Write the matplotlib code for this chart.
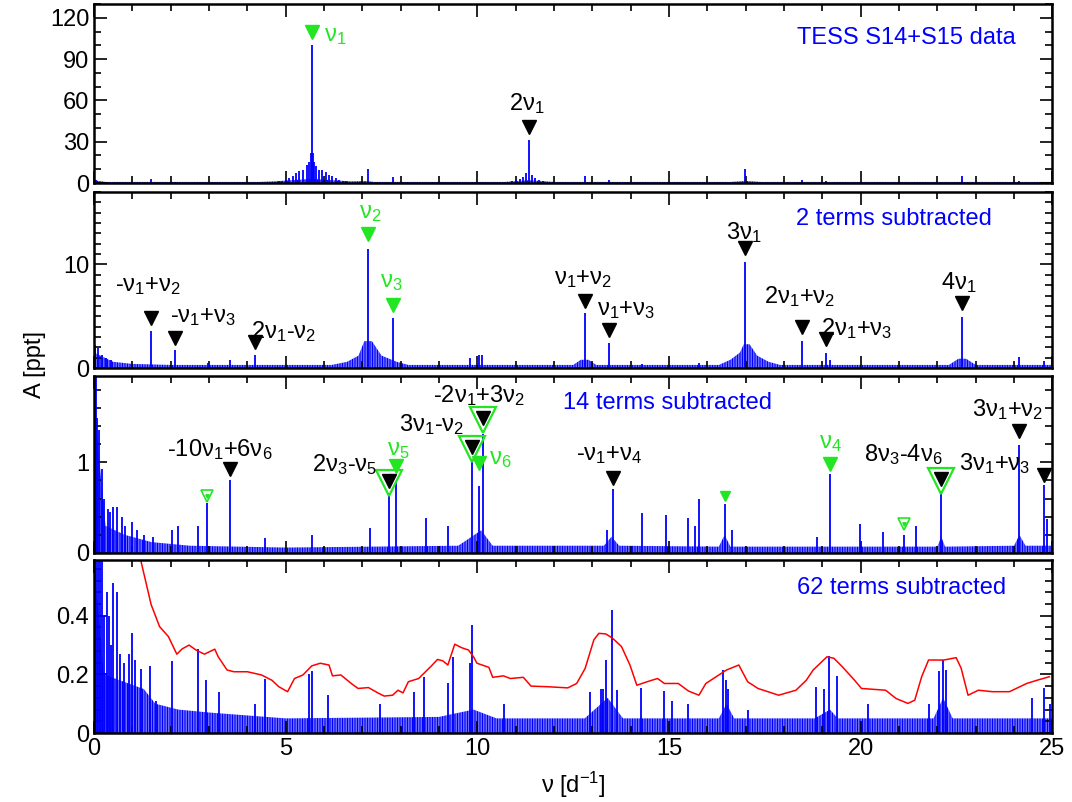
import numpy as np
import matplotlib
matplotlib.use('Agg')
import matplotlib.pyplot as plt
from matplotlib import ticker

BLUE, RED, GREEN, BLACK = '#0000FF', '#FF0000', '#22E622', '#000000'

plt.rcParams['font.family'] = ['Liberation Sans', 'DejaVu Sans']
plt.rcParams['mathtext.fontset'] = 'custom'
plt.rcParams['mathtext.rm'] = 'Liberation Sans'
plt.rcParams['mathtext.it'] = 'Liberation Sans:italic'
plt.rcParams['mathtext.bf'] = 'Liberation Sans:bold'
plt.rcParams['axes.linewidth'] = 1.8
plt.rcParams['hatch.linewidth'] = 0.9
plt.rcParams['hatch.color'] = BLUE

# ---- data: (frequency [1/d], amplitude [ppt]) ----
# panel 1: original data
peaks_p1 = [(0.05, 2.0), (1.49, 3.1), (2.1, 1.0), (4.82, 1.2), (4.91, 1.6), (5.00, 2.4),
            (5.09, 3.6), (5.18, 5.3), (5.27, 7.2), (5.36, 8.4), (5.45, 9.6), (5.55, 13.0),
            (5.62, 15.0), (5.65, 22.0), (5.675, 100.5), (5.70, 22.0), (5.73, 15.0),
            (5.79, 12.0), (5.86, 9.6), (5.95, 9.2), (6.04, 7.7), (6.13, 6.0), (6.22, 4.8),
            (6.31, 3.6), (6.40, 2.4), (6.49, 1.7), (6.58, 1.2), (7.16, 10.4), (7.79, 4.5),
            (10.9, 1.5), (11.0, 2.5), (11.1, 3.0), (11.2, 4.5), (11.27, 7.0), (11.35, 31.3),
            (11.43, 6.0), (11.5, 4.0), (11.6, 2.5), (11.7, 1.5), (12.81, 4.8), (13.44, 2.4),
            (16.98, 10.1), (18.48, 2.4), (19.1, 1.2), (22.65, 5.3), (24.14, 1.2)]
noise_p1 = [(0, 2.0), (0.3, 0.8), (4.3, 0.8), (4.7, 1.2), (5.675, 3.0), (6.7, 1.2),
            (7.1, 1.5), (7.3, 0.8), (10.7, 0.8), (11.35, 2.0), (12.0, 0.8), (16.6, 0.8),
            (17.0, 1.5), (17.4, 0.8), (25, 0.8)]

# panel 2: 2 terms subtracted
peaks_p2 = [(0.03, 2.2), (0.1, 1.9), (0.2, 1.3), (0.3, 1.0), (0.45, 0.8), (1.49, 3.6),
            (2.12, 1.7), (2.97, 0.5), (3.56, 0.8), (4.19, 1.3), (7.16, 11.5), (7.79, 4.8),
            (9.82, 1.0), (10.05, 1.3), (10.13, 1.3), (12.81, 5.3), (13.44, 2.4), (14.3, 0.4),
            (15.77, 0.5), (16.98, 10.2), (18.48, 2.6), (19.1, 1.5), (19.2, 0.8),
            (22.65, 4.9), (24.14, 1.1), (24.77, 0.7)]
noise_p2 = [(0, 1.5), (0.5, 0.6), (1.0, 0.4), (2.0, 0.3), (6.2, 0.3), (6.6, 0.6), (6.9, 1.2),
            (7.05, 2.6), (7.25, 2.6), (7.5, 1.2), (7.9, 0.6), (8.2, 0.3), (12.5, 0.3),
            (12.7, 0.8), (12.9, 0.8), (13.1, 0.3), (16.3, 0.3), (16.6, 0.8), (16.85, 1.5),
            (16.95, 2.3), (17.1, 2.3), (17.3, 1.2), (17.6, 0.6), (17.9, 0.3), (22.3, 0.3),
            (22.55, 0.9), (22.75, 0.9), (23.0, 0.3), (25, 0.3)]

# panel 3: 14 terms subtracted
peaks_p3 = [(0.045, 1.95), (0.09, 1.49), (0.135, 1.36), (0.21, 0.93), (0.27, 0.6),
            (0.36, 0.49), (0.41, 0.45), (0.5, 0.51), (0.59, 0.51), (0.72, 0.4), (0.81, 0.3),
            (0.99, 0.34), (1.13, 0.25), (1.3, 0.2), (1.53, 0.18), (2.03, 0.25), (2.19, 0.3),
            (2.7, 0.3), (2.95, 0.55), (3.54, 0.8), (4.46, 0.17), (5.68, 0.2), (7.2, 0.28),
            (7.7, 0.66), (7.88, 0.79), (8.65, 0.38), (9.23, 0.3), (9.85, 1.02), (10.05, 0.74),
            (10.14, 1.31), (13.37, 0.25), (13.53, 0.7), (14.3, 0.44), (14.93, 0.42),
            (15.49, 0.39), (15.68, 0.3), (15.79, 0.59), (16.45, 0.54), (16.63, 0.25),
            (18.85, 0.18), (19.19, 0.87), (19.97, 0.32), (20.57, 0.23), (21.14, 0.2),
            (21.45, 0.3), (22.1, 0.68), (24.14, 1.19), (24.77, 0.75), (24.85, 0.37)]
noise_p3 = [(0, 1.9), (0.1, 1.2), (0.3, 0.3), (0.8, 0.2), (1.5, 0.12), (2.5, 0.08),
            (5.0, 0.06), (9.5, 0.08), (10.1, 0.25), (10.4, 0.08), (13.3, 0.08), (13.5, 0.18),
            (13.7, 0.08), (16.3, 0.07), (16.45, 0.2), (16.6, 0.07), (22.0, 0.07), (22.1, 0.18),
            (22.2, 0.07), (24.0, 0.08), (24.14, 0.2), (24.3, 0.08), (25, 0.08)]

# panel 4: 62 terms subtracted
peaks_p4 = [(0.05, 0.59), (0.1, 0.59), (0.15, 0.59), (0.2, 0.59), (0.27, 0.4), (0.33, 0.48),
            (0.39, 0.4), (0.45, 0.3), (0.5, 0.51), (0.59, 0.48), (0.68, 0.27), (0.77, 0.24),
            (0.9, 0.27), (0.99, 0.34), (1.08, 0.25), (1.22, 0.22), (1.47, 0.23), (1.62, 0.11),
            (2.03, 0.245), (2.7, 0.286), (2.92, 0.18), (3.27, 0.14), (4.2, 0.1), (4.46, 0.185),
            (5.62, 0.2), (5.68, 0.21), (6.1, 0.13), (7.46, 0.1), (8.34, 0.14), (8.6, 0.19),
            (9.23, 0.17), (9.37, 0.26), (9.82, 0.24), (9.85, 0.37), (10.7, 0.1), (12.93, 0.14),
            (13.23, 0.15), (13.28, 0.15), (13.35, 0.25), (13.5, 0.42), (13.64, 0.146),
            (14.28, 0.154), (14.88, 0.143), (15.08, 0.11), (15.5, 0.1), (16.41, 0.215),
            (16.49, 0.18), (16.55, 0.15), (17.05, 0.08), (18.83, 0.158), (19.03, 0.15),
            (19.16, 0.264), (19.39, 0.195), (20.18, 0.1), (21.77, 0.1), (22.05, 0.21),
            (22.14, 0.25), (22.23, 0.215), (24.46, 0.118), (24.79, 0.152), (24.95, 0.1)]
noise_p4 = [(0, 0.59), (0.25, 0.2), (1.3, 0.15), (1.6, 0.1), (2.2, 0.08), (3.0, 0.07),
            (5.0, 0.05), (9.0, 0.055), (9.9, 0.08), (10.5, 0.05), (12.8, 0.05), (13.4, 0.12),
            (13.8, 0.05), (16.3, 0.05), (16.5, 0.1), (16.7, 0.05), (18.8, 0.05), (19.2, 0.08),
            (19.4, 0.05), (21.9, 0.05), (22.15, 0.12), (22.4, 0.05), (25, 0.05)]
noise_level = [(1.2, 0.60), (1.49, 0.438), (1.71, 0.363), (1.94, 0.329), (2.16, 0.269),
               (2.3, 0.287), (2.48, 0.30), (2.66, 0.283), (2.88, 0.269), (3.15, 0.286),
               (3.24, 0.26), (3.47, 0.215), (3.65, 0.209), (4.0, 0.209), (4.37, 0.198),
               (4.64, 0.18), (4.82, 0.158), (5.05, 0.141), (5.23, 0.186), (5.45, 0.198),
               (5.68, 0.229), (5.9, 0.238), (6.13, 0.232), (6.22, 0.195), (6.44, 0.198),
               (6.71, 0.169), (6.89, 0.152), (7.16, 0.155), (7.43, 0.135), (7.57, 0.126),
               (7.79, 0.129), (7.93, 0.146), (8.06, 0.137), (8.2, 0.175), (8.47, 0.186),
               (8.6, 0.203), (8.78, 0.226), (8.96, 0.251), (9.1, 0.246), (9.23, 0.232),
               (9.41, 0.303), (9.59, 0.291), (9.77, 0.283), (9.9, 0.26), (9.99, 0.238),
               (10.3, 0.224), (10.4, 0.19), (10.68, 0.195), (10.86, 0.186), (11.2, 0.19),
               (11.4, 0.16), (11.82, 0.158), (12.36, 0.154), (12.59, 0.169), (12.81, 0.22),
               (13.04, 0.318), (13.17, 0.34), (13.35, 0.338), (13.53, 0.323), (13.76, 0.295),
               (13.98, 0.232), (14.16, 0.163), (14.43, 0.175), (14.7, 0.186), (14.88, 0.169),
               (15.24, 0.169), (15.51, 0.143), (15.78, 0.129), (15.96, 0.169), (16.23, 0.192),
               (16.5, 0.215), (16.82, 0.232), (17.05, 0.175), (17.32, 0.152), (17.86, 0.129),
               (18.31, 0.146), (18.58, 0.18), (18.76, 0.215), (19.12, 0.26), (19.3, 0.255),
               (19.52, 0.226), (19.84, 0.18), (20.02, 0.152), (20.65, 0.146), (20.92, 0.118),
               (21.23, 0.101), (21.41, 0.112), (21.59, 0.192), (21.77, 0.249), (22.17, 0.249),
               (22.49, 0.257), (22.62, 0.221), (22.8, 0.129), (23.07, 0.146), (23.43, 0.141),
               (23.88, 0.141), (24.33, 0.169), (24.6, 0.18), (24.92, 0.192)]

titles = ['TESS S14+S15 data', '2 terms subtracted', '14 terms subtracted', '62 terms subtracted']

# ---- layout ----
fig = plt.figure(figsize=(10.72, 8.02), dpi=100)
L, W = 0.0877, 0.894
boxes = [(0.7718, 0.2232), (0.5411, 0.2195), (0.3105, 0.2207), (0.0860, 0.2157)]
ylims = [130, 17, 1.95, 0.59]
ymaj = [30, 10, 1, 0.2]
ymin = [10, 1, 0.2, 0.04]
peaks = [peaks_p1, peaks_p2, peaks_p3, peaks_p4]
noise = [noise_p1, noise_p2, noise_p3, noise_p4]
title_pos = [(0.962, 0.81, 'right'), (0.937, 0.848, 'right'),
             (0.489, 0.845, 'left'), (0.952, 0.836, 'right')]

axes = []
for i in range(4):
    ax = fig.add_axes([L, boxes[i][0], W, boxes[i][1]])
    nf, na = np.array(noise[i]).T
    # noise floor drawn as a dense comb of thin vertical strokes
    ax.fill_between(nf, 0, na, facecolor='none', edgecolor=BLUE, hatch='|' * 10, lw=0)
    pf, pa = np.array(peaks[i]).T
    ax.vlines(pf, 0, pa, color=BLUE, lw=1.3)
    ax.set_xlim(0, 25)
    ax.set_ylim(0, ylims[i])
    ax.xaxis.set_major_locator(ticker.MultipleLocator(5))
    ax.xaxis.set_minor_locator(ticker.MultipleLocator(1))
    ax.yaxis.set_major_locator(ticker.MultipleLocator(ymaj[i]))
    ax.yaxis.set_minor_locator(ticker.MultipleLocator(ymin[i]))
    ax.tick_params(which='both', direction='in', top=True, right=True, labelsize=17, width=1.2)
    ax.tick_params(which='major', length=9)
    ax.tick_params(which='minor', length=5)
    if i < 3:
        ax.tick_params(labelbottom=False)
    tx, ty, ha = title_pos[i]
    ax.text(tx, ty, titles[i], transform=ax.transAxes, color=BLUE, fontsize=17, ha=ha, va='center')
    axes.append(ax)

axes[1].yaxis.set_major_formatter(ticker.FuncFormatter(lambda v, p: f'{v:.0f}'))
axes[2].yaxis.set_major_formatter(ticker.FuncFormatter(lambda v, p: f'{v:.0f}'))
axes[3].yaxis.set_major_formatter(ticker.FuncFormatter(lambda v, p: '0' if v == 0 else f'{v:.1f}'))

nf, na = np.array(noise_level).T
axes[3].plot(nf, na, color=RED, lw=1.1)

# ---- identification marks: (panel, x, y, kind) ----
marks = [(0, 5.675, 109.6, 'g'), (0, 11.35, 41, 'k'),
         (1, 1.49, 4.8, 'k'), (1, 2.12, 2.9, 'k'), (1, 4.19, 2.56, 'k'), (1, 7.16, 12.9, 'g'),
         (1, 7.79, 6.1, 'g'), (1, 12.81, 6.5, 'k'), (1, 13.44, 3.7, 'k'), (1, 16.98, 11.55, 'k'),
         (1, 18.48, 4.0, 'k'), (1, 19.1, 2.8, 'k'), (1, 22.65, 6.3, 'k'),
         (2, 2.95, 0.63, 'o'), (2, 3.54, 0.93, 'k'), (2, 7.7, 0.79, 'r'), (2, 7.88, 0.96, 'g'),
         (2, 9.85, 1.17, 'r'), (2, 10.14, 1.49, 'r'), (2, 10.05, 0.99, 'g'),
         (2, 13.53, 0.83, 'k'), (2, 16.45, 0.63, 's'), (2, 19.19, 0.98, 'g'),
         (2, 22.1, 0.81, 'r'), (2, 21.14, 0.32, 'o'), (2, 24.14, 1.34, 'k'), (2, 24.77, 0.86, 'k')]
for p, x, y, kind in marks:
    ax = axes[p]
    if kind == 'k':
        ax.plot(x, y, 'v', color=BLACK, ms=10, clip_on=False)
    elif kind == 'g':
        ax.plot(x, y, 'v', color=GREEN, ms=10, clip_on=False)
    elif kind == 's':
        ax.plot(x, y, 'v', color=GREEN, ms=7)
    elif kind == 'o':
        ax.plot(x, y, 'v', mfc='none', mec=GREEN, mew=1.2, ms=9)
        ax.plot(x, y, 'v', color=GREEN, ms=2.5)
    elif kind == 'r':
        ax.plot(x, y - 0.02, 'v', mfc='none', mec=GREEN, mew=1.6, ms=19)
        ax.plot(x, y, 'v', color=BLACK, ms=10)

labels = [(0, 'ν$_1$', 6.3, 107, GREEN), (0, '2ν$_1$', 11.3, 58, BLACK),
          (1, '-ν$_1$+ν$_2$', 1.4, 7.9, BLACK), (1, '-ν$_1$+ν$_3$', 2.84, 4.9, BLACK),
          (1, '2ν$_1$-ν$_2$', 4.94, 3.5, BLACK), (1, 'ν$_2$', 7.2, 15.0, GREEN),
          (1, 'ν$_3$', 7.75, 8.3, GREEN), (1, 'ν$_1$+ν$_2$', 12.76, 8.6, BLACK),
          (1, 'ν$_1$+ν$_3$', 13.89, 5.6, BLACK), (1, '3ν$_1$', 16.96, 13.1, BLACK),
          (1, '2ν$_1$+ν$_2$', 18.4, 6.9, BLACK), (1, '2ν$_1$+ν$_3$', 19.9, 3.8, BLACK),
          (1, '4ν$_1$', 22.56, 8.3, BLACK),
          (2, '-10ν$_1$+6ν$_6$', 3.29, 1.14, BLACK), (2, '2ν$_3$-ν$_5$', 6.55, 0.97, BLACK),
          (2, 'ν$_5$', 7.93, 1.14, GREEN), (2, '3ν$_1$-ν$_2$', 8.8, 1.41, BLACK),
          (2, '-2ν$_1$+3ν$_2$', 10.05, 1.73, BLACK), (2, 'ν$_6$', 10.6, 1.04, GREEN),
          (2, '-ν$_1$+ν$_4$', 13.44, 1.08, BLACK), (2, 'ν$_4$', 19.22, 1.21, GREEN),
          (2, '8ν$_3$-4ν$_6$', 21.1, 1.08, BLACK), (2, '3ν$_1$+ν$_3$', 23.5, 0.99, BLACK),
          (2, '3ν$_1$+ν$_2$', 23.82, 1.58, BLACK)]
for p, s, x, y, c in labels:
    axes[p].text(x, y, s, color=c, fontsize=17, ha='center', va='center', clip_on=False)

fig.text(0.033, 0.545, 'A [ppt]', rotation=90, fontsize=17, ha='center', va='center')
fig.text(0.535, 0.021, 'ν [d$^{-1}$]', fontsize=17, ha='center', va='center')

fig.savefig('out.png', dpi=100)
